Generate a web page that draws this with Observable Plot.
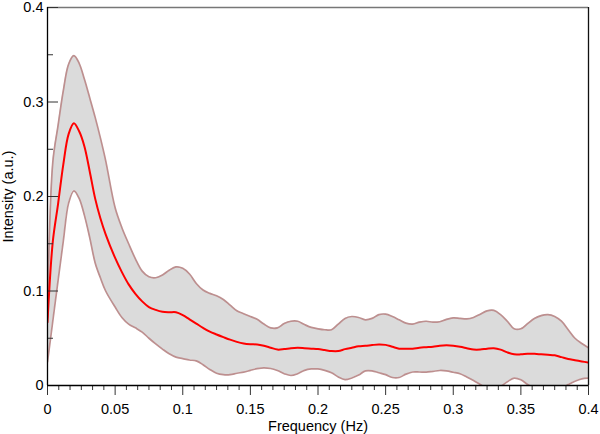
<!DOCTYPE html>
<html>
<head>
<meta charset="utf-8">
<script src="https://cdn.jsdelivr.net/npm/d3@7"></script>
<script src="https://cdn.jsdelivr.net/npm/@observablehq/plot@0.6"></script>
<style>
  html, body { margin: 0; padding: 0; background: #fff; }
  #chart { width: 600px; height: 434px; }
</style>
</head>
<body>
<div id="chart"></div>
<script>
// Frequency (Hz)
const freq = [0, 0.0039, 0.0078, 0.0117, 0.0156, 0.0195, 0.0234, 0.0273, 0.0313, 0.0352, 0.0391, 0.043,
  0.05, 0.055, 0.06, 0.065, 0.07, 0.075, 0.08, 0.085, 0.09, 0.095, 0.1,
  0.105, 0.11, 0.115, 0.12, 0.125, 0.13, 0.135, 0.14, 0.145, 0.15,
  0.155, 0.16, 0.165, 0.17, 0.175, 0.18, 0.185, 0.19, 0.195, 0.2,
  0.205, 0.21, 0.215, 0.22, 0.225, 0.23, 0.235, 0.24, 0.245, 0.25,
  0.255, 0.26, 0.265, 0.27, 0.275, 0.28, 0.285, 0.29, 0.295, 0.3,
  0.305, 0.31, 0.315, 0.32, 0.325, 0.33, 0.335, 0.34, 0.345, 0.35,
  0.355, 0.36, 0.365, 0.37, 0.375, 0.38, 0.385, 0.39, 0.395, 0.4];

// Upper bound of the band
const upper = [0.072, 0.236, 0.275, 0.312, 0.340, 0.349, 0.341, 0.324, 0.304, 0.284, 0.262, 0.238,
  0.188, 0.167, 0.150, 0.134, 0.121, 0.115, 0.114, 0.117, 0.122, 0.1255, 0.124,
  0.118, 0.108, 0.101, 0.0975, 0.095, 0.091, 0.085, 0.079, 0.076, 0.073,
  0.070, 0.065, 0.061, 0.061, 0.0655, 0.068, 0.068, 0.0645, 0.0615, 0.060,
  0.059, 0.059, 0.065, 0.071, 0.073, 0.072, 0.0695, 0.071, 0.075, 0.0755,
  0.073, 0.0695, 0.066, 0.065, 0.067, 0.068, 0.067, 0.0675, 0.070, 0.0715,
  0.071, 0.0705, 0.072, 0.0755, 0.079, 0.0795, 0.075, 0.068, 0.060, 0.060,
  0.0655, 0.071, 0.074, 0.075, 0.073, 0.068, 0.059, 0.050, 0.0445, 0.040];

// Mean intensity
const mean = [0.067, 0.152, 0.192, 0.234, 0.266, 0.2776, 0.269, 0.253, 0.226, 0.198, 0.177, 0.160,
  0.135, 0.120, 0.107, 0.097, 0.089, 0.083, 0.080, 0.078, 0.0775, 0.0775, 0.0745,
  0.070, 0.0655, 0.061, 0.057, 0.054, 0.0512, 0.0485, 0.0462, 0.0445, 0.0437,
  0.0434, 0.042, 0.040, 0.038, 0.0385, 0.0395, 0.0399, 0.0395, 0.039, 0.0385,
  0.0375, 0.0365, 0.0365, 0.0385, 0.040, 0.0415, 0.042, 0.0428, 0.0434, 0.043,
  0.041, 0.039, 0.0388, 0.039, 0.040, 0.0405, 0.041, 0.042, 0.0425, 0.042,
  0.041, 0.0395, 0.038, 0.038, 0.039, 0.0395, 0.038, 0.035, 0.033, 0.033,
  0.0335, 0.0335, 0.033, 0.0325, 0.032, 0.030, 0.028, 0.0268, 0.0255, 0.0243];

// Lower bound of the band
const lower = [0.025, 0.068, 0.111, 0.153, 0.193, 0.206, 0.198, 0.180, 0.156, 0.130, 0.114, 0.100,
  0.083, 0.072, 0.065, 0.061, 0.0565, 0.050, 0.044, 0.0385, 0.0335, 0.030, 0.0285,
  0.027, 0.026, 0.022, 0.017, 0.013, 0.0115, 0.0115, 0.013, 0.0142, 0.016,
  0.0178, 0.0187, 0.018, 0.0158, 0.0125, 0.0106, 0.0125, 0.016, 0.0175, 0.0175,
  0.016, 0.0135, 0.009, 0.0062, 0.008, 0.011, 0.0155, 0.0155, 0.0135, 0.0115,
  0.0085, 0.0085, 0.012, 0.0143, 0.0143, 0.0141, 0.015, 0.0159, 0.0155, 0.014,
  0.0124, 0.009, 0.0053, 0.001, -0.003, -0.004, -0.001, 0.004, 0.0078, 0.006,
  0.001, -0.003, -0.006, -0.007, -0.006, -0.003, 0.001, 0.0045, 0.007, 0.0078];

const xTicks = [0, 0.05, 0.1, 0.15, 0.2, 0.25, 0.3, 0.35, 0.4];
const xTickLabels = ["0", "0.05", "0.1", "0.15", "0.2", "0.25", "0.3", "0.35", "0.4"];
const xMinorTicks = d3.range(0, 48).map(i => i * 0.05 / 6).filter((d, i) => i % 6 !== 0);
const yTicks = [0, 0.1, 0.2, 0.3, 0.4];
const yTickLabels = ["0", "0.1", "0.2", "0.3", "0.4"];
const yMinorTicks = [0.05, 0.15, 0.25, 0.35];

const data = freq.map((f, i) => ({f, hi: upper[i], mean: mean[i], lo: lower[i]}));
const curve = "catmull-rom";
const bandStroke = "#bd8f8f";

const chart = Plot.plot({
  width: 600,
  height: 434,
  marginLeft: 47,
  marginRight: 12,
  marginTop: 7,
  marginBottom: 49,
  style: {fontFamily: "'Liberation Sans', Arial, Helvetica, sans-serif", fontSize: "14.5px", color: "#000", background: "#fff"},
  x: {domain: [0, 0.4]},
  y: {domain: [0, 0.4]},
  marks: [
    Plot.areaY(data, {x: "f", y1: "lo", y2: "hi", fill: "#dbdbdb", curve, clip: true}),
    Plot.lineY(data, {x: "f", y: "hi", stroke: bandStroke, strokeWidth: 1.7, curve, clip: true}),
    Plot.lineY(data, {x: "f", y: "lo", stroke: bandStroke, strokeWidth: 1.7, curve, clip: true}),
    Plot.lineY(data, {x: "f", y: "mean", stroke: "#ff0000", strokeWidth: 2, curve, clip: true}),
    Plot.ruleY([0.4], {stroke: "#777", strokeWidth: 1.3}),
    Plot.ruleX([0.4], {stroke: "#111", strokeWidth: 1.3}),
    Plot.axisX({ticks: xTicks, tickSize: 10, tickPadding: 8, tickFormat: (d, i) => xTickLabels[i],
      label: "Frequency (Hz)", labelAnchor: "center", labelOffset: 45, labelArrow: false, stroke: "#333"}),
    Plot.axisX({ticks: xMinorTicks, tickSize: 5, tickFormat: () => "", label: null, stroke: "#333"}),
    Plot.axisY({ticks: yTicks, tickSize: -11, tickPadding: 15, tickFormat: (d, i) => yTickLabels[i],
      label: "Intensity (a.u.)", labelAnchor: "center", labelOffset: 45, labelArrow: false, stroke: "#333"}),
    Plot.axisY({ticks: yMinorTicks, tickSize: -6, tickFormat: () => "", label: null, stroke: "#333"}),
    Plot.ruleX([0], {stroke: "#000", strokeWidth: 1.3}),
    Plot.ruleY([0], {stroke: "#000", strokeWidth: 1.3})
  ]
});
document.getElementById("chart").appendChild(chart);
</script>
</body>
</html>
